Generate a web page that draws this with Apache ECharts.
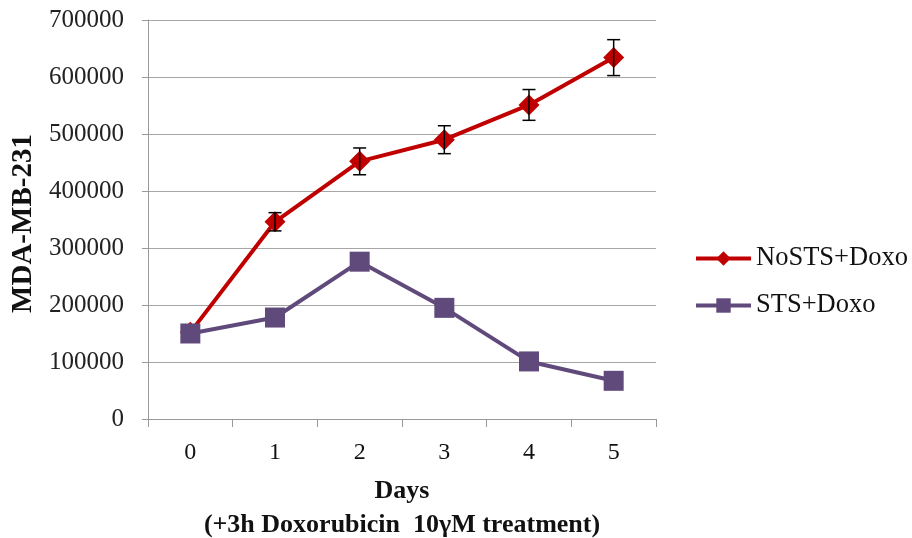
<!DOCTYPE html>
<html><head><meta charset="utf-8">
<script src="https://cdn.jsdelivr.net/npm/echarts@6/dist/echarts.min.js"></script>
<style>html,body{margin:0;padding:0;background:#fff}#c{width:912px;height:538px}</style>
</head><body><div id="c"></div>
<script>
const days = ['0','1','2','3','4','5'];
const noStsDoxo = [152000, 346000, 452000, 490000, 551000, 634000];
const noStsErr = [0, 16000, 23500, 24500, 27000, 31500];
const stsDoxo = [150000, 178000, 276000, 195000, 101000, 67000];
const yTicks = [0, 100000, 200000, 300000, 400000, 500000, 600000, 700000];

const FONT = 'Liberation Serif';
const chart = echarts.init(document.getElementById('c'));
const errData = noStsDoxo.map((v, i) => [i, v - noStsErr[i], v + noStsErr[i]]);

chart.setOption({
  animation: false,
  grid: {left: 148, right: 256, top: 20, bottom: 119, containLabel: false, outerBoundsMode: 'none'},
  legend: {
    orient: 'vertical', left: 694, top: 245, itemGap: 20, padding: 0,
    itemWidth: 55, itemHeight: 18,
    data: ['NoSTS+Doxo', 'STS+Doxo'],
    lineStyle: {width: 4},
    textStyle: {fontFamily: FONT, fontSize: 26.5, color: '#111'}
  },
  xAxis: {
    type: 'category', data: days, boundaryGap: true,
    name: 'Days\n(+3h Doxorubicin  10γM treatment)', nameLocation: 'middle', nameGap: 55,
    nameTextStyle: {fontFamily: FONT, fontSize: 26, fontWeight: 'bold', color: '#111', lineHeight: 34, verticalAlign: 'top'},
    axisLine: {lineStyle: {color: '#999', width: 1}},
    axisTick: {show: true, length: 8, alignWithLabel: false, lineStyle: {color: '#999'}},
    axisLabel: {fontFamily: FONT, fontSize: 24, color: '#111', margin: 22},
    splitLine: {show: false}
  },
  yAxis: {
    type: 'value', min: 0, max: 700000, interval: 100000,
    name: 'MDA-MB-231', nameLocation: 'middle', nameGap: 110, nameRotate: 90,
    nameTextStyle: {fontFamily: FONT, fontSize: 29, fontWeight: 'bold', color: '#111', padding: [0, 0, 0, -8]},
    axisLine: {show: true, lineStyle: {color: '#999', width: 1}},
    axisTick: {show: true, length: 6, lineStyle: {color: '#999'}},
    axisLabel: {fontFamily: FONT, fontSize: 25, color: '#222', margin: 24,
      formatter: v => yTicks.includes(v) ? String(v) : ''},
    splitLine: {show: true, lineStyle: {color: '#a6a6a6', width: 1}}
  },
  series: [
    {
      name: 'NoSTS+Doxo', type: 'line', data: noStsDoxo,
      symbol: 'diamond', symbolSize: 21, z: 3,
      lineStyle: {color: '#C00000', width: 4},
      itemStyle: {color: '#C00000'}
    },
    {
      name: 'STS+Doxo', type: 'line', data: stsDoxo,
      symbol: 'rect', symbolSize: 20, z: 4,
      lineStyle: {color: '#604A7B', width: 4},
      itemStyle: {color: '#604A7B'}
    },
    {
      name: 'err', type: 'custom', z: 5, data: errData,
      renderItem: function (params, api) {
        const i = api.value(0);
        const lo = api.coord([i, api.value(1)]);
        const hi = api.coord([i, api.value(2)]);
        if (Math.abs(hi[1] - lo[1]) < 1) return null;
        const w = 6.5;
        const st = {stroke: '#000', lineWidth: 1.5};
        return {type: 'group', children: [
          {type: 'line', shape: {x1: lo[0], y1: lo[1], x2: hi[0], y2: hi[1]}, style: st},
          {type: 'line', shape: {x1: lo[0]-w, y1: lo[1], x2: lo[0]+w, y2: lo[1]}, style: st},
          {type: 'line', shape: {x1: hi[0]-w, y1: hi[1], x2: hi[0]+w, y2: hi[1]}, style: st}
        ]};
      }
    }
  ]
});
</script></body></html>
